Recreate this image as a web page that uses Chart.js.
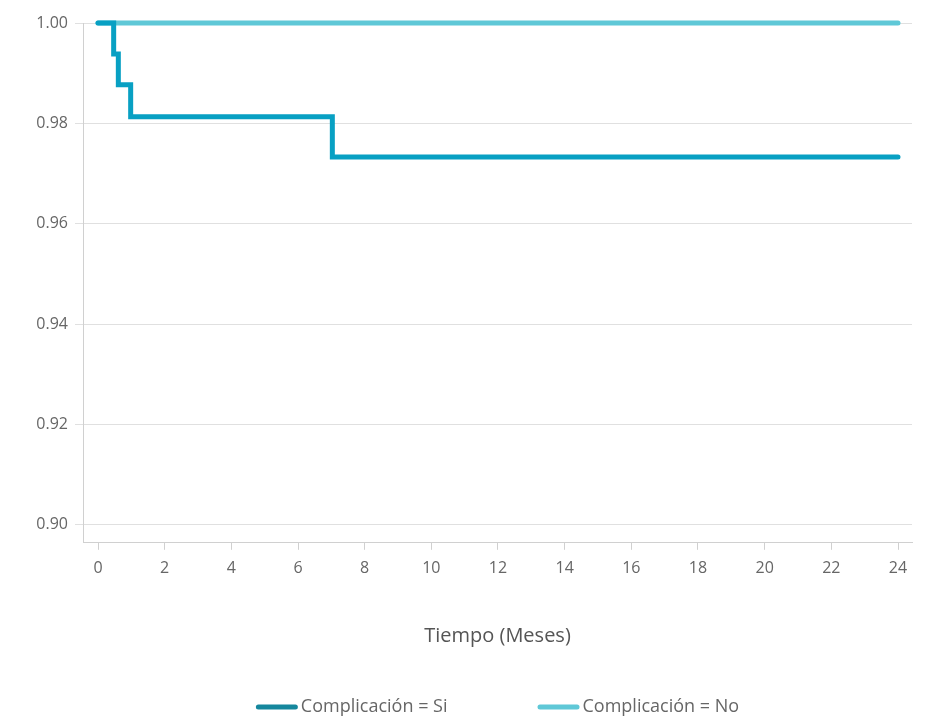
<!DOCTYPE html>
<html>
<head>
<meta charset="utf-8">
<script src="https://cdn.jsdelivr.net/npm/chart.js@4"></script>
<style>
  html, body { margin: 0; padding: 0; background: #fff; }
  #wrap { width: 927px; height: 718px; }
</style>
</head>
<body>
<div id="wrap"><canvas id="chartKM"></canvas></div>
<script>
// ====== DATA ======
const seriesNames = ['Complicación = Si', 'Complicación = No'];
const siTimes  = [0, 0.47, 0.61, 0.98, 7.03, 24];
const siValues = [1.0, 0.9938, 0.9877, 0.9813, 0.9733, 0.9733];
const noTimes  = [0, 24];
const noValues = [1.0, 1.0];
const xTicks = [0, 2, 4, 6, 8, 10, 12, 14, 16, 18, 20, 22, 24];
const yTicks = [0.90, 0.92, 0.94, 0.96, 0.98, 1.00];

// ====== COLORS ======
const COLORS = {
    si:       '#08a0c3',
    siLegend: '#15879d',
    no:       '#5fc8d7',
    grid:     '#e0e0e0',
    axis:     '#d0d0d0',
    text:     '#666666',
};

const FONT = '"Open Sans", Lato, sans-serif';

const toPoints = (xs, ys) => xs.map((x, i) => ({ x: x, y: ys[i] }));

// legend at the bottom: line swatch + label, centred under the plot
const bottomLegend = {
    id: 'bottomLegend',
    afterDraw(chart) {
        const ctx = chart.ctx;
        const area = chart.chartArea;
        const swatch = 42, gap = 3, itemGap = 90;
        const legendColors = [COLORS.siLegend, COLORS.no];
        ctx.save();
        ctx.font = '18px ' + FONT;
        const widths = seriesNames.map(t => swatch + gap + ctx.measureText(t).width);
        const total = widths.reduce((a, b) => a + b, 0) + itemGap * (widths.length - 1);
        let x = (area.left + area.right) / 2 - total / 2;
        const y = chart.height - 11;
        seriesNames.forEach((name, i) => {
            ctx.strokeStyle = legendColors[i];
            ctx.lineWidth = 5;
            ctx.lineCap = 'round';
            ctx.beginPath();
            ctx.moveTo(x + 2.5, y);
            ctx.lineTo(x + swatch - 2.5, y);
            ctx.stroke();
            ctx.fillStyle = COLORS.text;
            ctx.textBaseline = 'middle';
            ctx.textAlign = 'left';
            ctx.fillText(name, x + swatch + gap, y);
            x += widths[i] + itemGap;
        });
        ctx.restore();
    }
};

new Chart(document.getElementById('chartKM'), {
    type: 'line',
    data: {
        datasets: [{
            label: seriesNames[0],
            data: toPoints(siTimes, siValues),
            borderColor: COLORS.si,
            borderWidth: 5,
            stepped: 'before',
            pointRadius: 0,
            borderCapStyle: 'round',
            borderJoinStyle: 'miter',
            fill: false,
        }, {
            label: seriesNames[1],
            data: toPoints(noTimes, noValues),
            borderColor: COLORS.no,
            borderWidth: 5,
            stepped: 'before',
            pointRadius: 0,
            borderCapStyle: 'round',
            fill: false,
        }]
    },
    options: {
        responsive: true,
        maintainAspectRatio: false,
        animation: false,
        clip: false,
        layout: { padding: { left: 0, right: 15, top: 23, bottom: 70 } },
        plugins: {
            legend: { display: false },
            tooltip: { enabled: false }
        },
        scales: {
            x: {
                type: 'linear',
                min: -0.45,
                max: 24.42,
                afterBuildTicks: axis => { axis.ticks = xTicks.map(v => ({ value: v })); },
                ticks: { font: { family: FONT, size: 16 }, color: COLORS.text, padding: 9 },
                grid: { drawOnChartArea: false, tickLength: 7, color: COLORS.axis },
                border: { color: COLORS.axis },
                title: {
                    display: true,
                    text: 'Tiempo (Meses)',
                    font: { family: FONT, size: 20 },
                    color: '#555555',
                    padding: { top: 37, bottom: 0 }
                }
            },
            y: {
                min: 0.8964,
                max: 1.0,
                afterBuildTicks: axis => { axis.ticks = yTicks.map(v => ({ value: v })); },
                afterFit: axis => { axis.width = 83; },
                ticks: {
                    font: { family: FONT, size: 16 },
                    color: COLORS.text,
                    padding: 7,
                    callback: v => v.toFixed(2)
                },
                grid: { color: COLORS.grid, tickLength: 8 },
                border: { color: COLORS.axis }
            }
        }
    },
    plugins: [bottomLegend]
});
</script>
</body>
</html>
